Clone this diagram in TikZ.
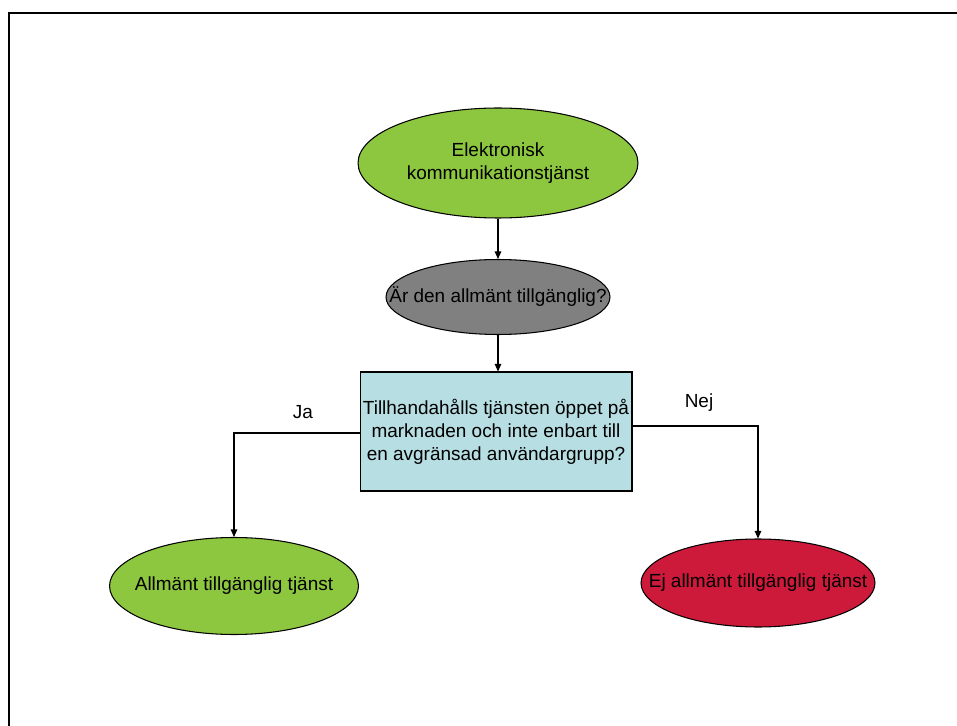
\documentclass[tikz,border=0pt]{standalone}
\usepackage{fontspec}
\setmainfont{Liberation Sans}
\usetikzlibrary{shapes.geometric,arrows.meta}

\definecolor{grn}{RGB}{141,198,63}
\definecolor{gry}{RGB}{128,128,128}
\definecolor{aqua}{RGB}{183,222,226}
\definecolor{rd}{RGB}{206,26,58}

\tikzset{
  ell/.style={ellipse, draw, line width=0.6pt, inner sep=0pt},
  qbox/.style={rectangle, draw, line width=0.6pt, fill=aqua, align=center,
    minimum width=5.44cm, minimum height=2.38cm, inner sep=0pt},
  conn/.style={line width=0.6pt, -{Triangle[length=1.5mm,width=1.3mm]}},
  lbl/.style={inner sep=0pt}
}

\begin{document}
\begin{tikzpicture}[x=0.02cm,y=-0.02cm,font=\fontsize{10.8}{13}\selectfont]
    \useasboundingbox (0,0) rectangle (957,726);
    % frame
    \draw[line width=1.5pt] (9,726) -- (9,13) -- (957,13);
    % nodes
    \node[ell, fill=grn, minimum width=5.6cm, minimum height=2.2cm,
      label={[align=center]center:Elektronisk\\kommunikationstjänst}] (elkom) at (498,163) {};
    \node[ell, fill=gry, minimum width=4.48cm, minimum height=1.5cm,
      label={center:Är den allmänt tillgänglig?}] (allm) at (498,297) {};
    \node[qbox] (oppet) at (496,431.5)
      {Tillhandahålls tjänsten öppet på\\marknaden och inte enbart till\\en avgränsad användargrupp?};
    \node[ell, fill=grn, minimum width=4.98cm, minimum height=1.94cm,
      label={center:Allmänt tillgänglig tjänst}] (ja) at (234,586) {};
    \node[ell, fill=rd, minimum width=4.68cm, minimum height=1.76cm,
      label={center:Ej allmänt tillgänglig tjänst}] (nej) at (758,583) {};
    \node[lbl] (jatxt) at (303,412) {Ja};
    \node[lbl] (nejtxt) at (699,403) {Nej};
    % connectors
    \draw[conn] (elkom.south) -- (allm.north);
    \draw[conn] (allm.south) -- (allm.south |- oppet.north);
    \draw[conn] ([yshift=-0.03cm]oppet.west) -| (ja.north);
    \draw[conn] ([yshift=0.11cm]oppet.east) -| (nej.north);
\end{tikzpicture}
\end{document}
